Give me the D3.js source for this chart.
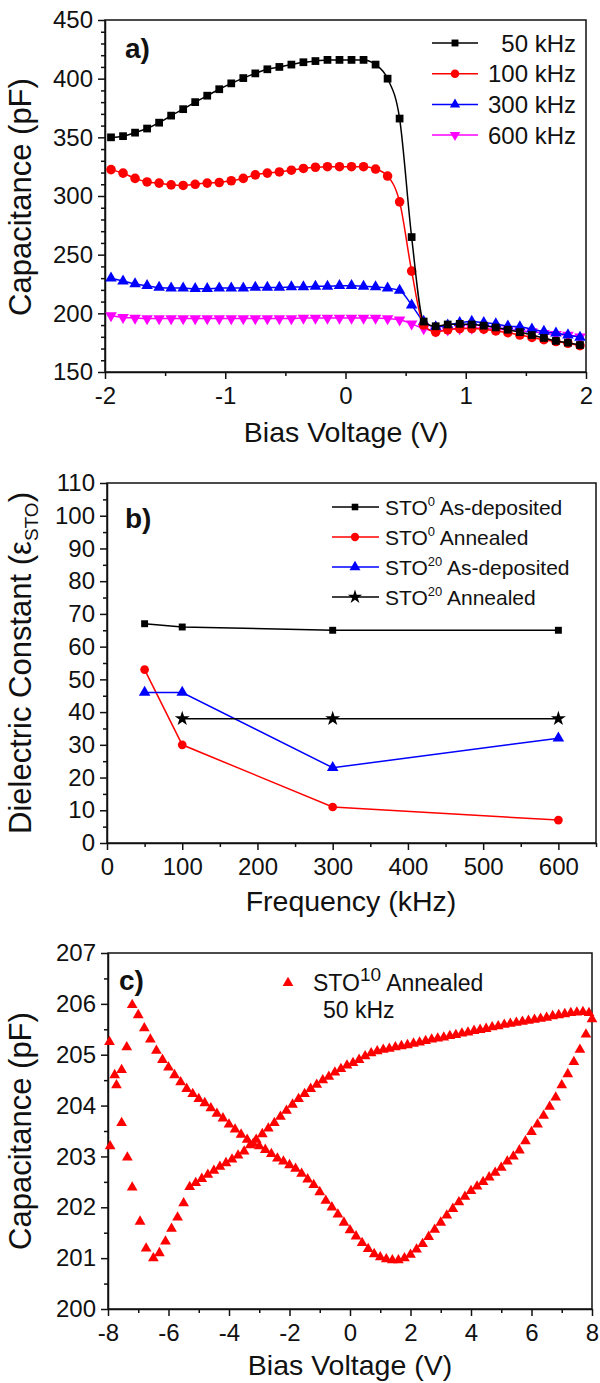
<!DOCTYPE html>
<html>
<head>
<meta charset="utf-8">
<script src="https://cdn.jsdelivr.net/npm/d3@7"></script>
<style>
  body { margin: 0; background: #fff; }
  svg { font-family: Arial, "Liberation Sans", sans-serif; }
</style>
</head>
<body>
<div id="chart"></div>
<script>
// ---------- panel a) C-V at several frequencies
const biasA = [-1.95, -1.85, -1.75, -1.65, -1.55, -1.45, -1.35, -1.25, -1.15, -1.05,
  -0.95, -0.85, -0.75, -0.65, -0.55, -0.45, -0.35, -0.25, -0.15, -0.05,
  0.05, 0.15, 0.25, 0.35, 0.45, 0.55, 0.65, 0.75, 0.85, 0.95,
  1.05, 1.15, 1.25, 1.35, 1.45, 1.55, 1.65, 1.75, 1.85, 1.95];
const cap50 = [350, 351, 354, 357.5, 362.5, 368.5, 374, 380, 385.5, 391,
  396, 400.5, 404.5, 408, 410, 412, 414, 415, 416, 416,
  416, 416, 412, 400, 366, 265, 193, 189, 190.5, 191,
  190.5, 189.5, 188, 186, 184, 181.5, 179, 176.5, 175, 173];
const cap100 = [322.5, 319.5, 315, 312, 311, 309.5, 309, 310, 311, 311.5,
  313, 315, 318, 319.5, 320.5, 322, 323.5, 324.5, 325, 325,
  325, 325, 323, 317, 295, 236, 190, 184, 186, 187,
  187, 186.5, 185, 183.5, 181.5, 179.5, 177.5, 176, 174.5, 172.5];
const cap300 = [230, 227.5, 225, 223.5, 222, 221.5, 221.5, 221, 221, 221.5,
  221.5, 221.5, 222, 222, 222, 222.5, 222.5, 223, 223, 223.5,
  223.5, 223, 222.5, 221.5, 219.5, 207, 193, 188.5, 190, 192,
  193, 192, 191, 189, 188.5, 186.5, 184.5, 183, 181.5, 179.5];
const cap600 = [198, 196.5, 196, 195.5, 195.5, 195.5, 195.5, 195.5, 195.5, 195.5,
  195.5, 195.5, 195.5, 195.5, 195.5, 195.5, 196, 196, 196, 196,
  196, 196, 196, 195.5, 194.5, 191, 187, 185, 186, 187,
  187.5, 187.5, 186.5, 186, 185, 184.5, 183, 182, 181.5, 180];
const freqLabelsA = [" 50 kHz", "100 kHz", "300 kHz", "600 kHz"];

// ---------- panel b) dielectric constant vs frequency
const freqB = [50, 100, 300, 600];
const sto0Dep = [67, 66, 65, 65];
const sto0Ann = [53, 30, 11, 7];
const sto20Dep = [46, 46, 23, 32];
const freqStar = [100, 300, 600];
const sto20Ann = [38, 38, 38];

// ---------- panel c) STO10 annealed hysteresis at 50 kHz
const sweepDownV = [8.0, 7.8, 7.6, 7.4, 7.2, 7.0, 6.8, 6.6, 6.4, 6.2,
  6.0, 5.8, 5.6, 5.4, 5.2, 5.0, 4.8, 4.6, 4.4, 4.2,
  4.0, 3.8, 3.6, 3.4, 3.2, 3.0, 2.8, 2.6, 2.4, 2.2,
  2.0, 1.8, 1.6, 1.4, 1.2, 1.0, 0.8, 0.6, 0.4, 0.2,
  0.0, -0.2, -0.4, -0.6, -0.8, -1.0, -1.2, -1.4, -1.6, -1.8,
  -2.0, -2.2, -2.4, -2.6, -2.8, -3.0, -3.2, -3.4, -3.6, -3.8,
  -4.0, -4.2, -4.4, -4.6, -4.8, -5.0, -5.2, -5.4, -5.6, -5.8,
  -6.0, -6.2, -6.4, -6.6, -6.8, -7.0, -7.2, -7.38, -7.55, -7.72, -7.78, -7.95];
const sweepDownC = [205.7, 205.4, 205.1, 204.86, 204.62, 204.4, 204.16, 203.98, 203.8, 203.63,
  203.48, 203.3, 203.12, 203.0, 202.9, 202.78, 202.68, 202.59, 202.5, 202.41,
  202.32, 202.21, 202.1, 201.97, 201.84, 201.7, 201.56, 201.42, 201.28, 201.17,
  201.07, 201.0, 200.96, 200.96, 200.98, 201.02, 201.08, 201.18, 201.3, 201.43,
  201.55, 201.7, 201.86, 202.0, 202.13, 202.3, 202.44, 202.55, 202.66, 202.76,
  202.83, 202.9, 202.96, 203.05, 203.13, 203.2, 203.25, 203.33, 203.43, 203.53,
  203.63, 203.75, 203.84, 203.95, 204.05, 204.13, 204.23, 204.33, 204.46, 204.6,
  204.75, 204.9, 205.08, 205.3, 205.52, 205.78, 205.98, 205.15, 204.7, 204.4, 204.6, 205.25];
const sweepUpV = [-7.93, -7.55, -7.36, -7.2, -6.94, -6.74, -6.5, -6.3, -6.1, -5.9,
  -5.7, -5.5, -5.3, -5.1, -4.9, -4.7, -4.5, -4.3, -4.1, -3.9,
  -3.7, -3.5, -3.3, -3.1, -2.9, -2.7, -2.5, -2.3, -2.1, -1.9,
  -1.7, -1.5, -1.3, -1.1, -0.9, -0.7, -0.5, -0.3, -0.1, 0.1,
  0.3, 0.5, 0.7, 0.9, 1.1, 1.3, 1.5, 1.7, 1.9, 2.1,
  2.3, 2.5, 2.7, 2.9, 3.1, 3.3, 3.5, 3.7, 3.9, 4.1,
  4.3, 4.5, 4.7, 4.9, 5.1, 5.3, 5.5, 5.7, 5.9, 6.1,
  6.3, 6.5, 6.7, 6.9, 7.1, 7.3, 7.5, 7.7, 7.9];
const sweepUpC = [203.2, 203.66, 202.98, 202.39, 201.72, 201.19, 201.0, 201.1, 201.33, 201.58,
  201.8, 202.08, 202.4, 202.48, 202.56, 202.64, 202.72, 202.8, 202.87, 202.94,
  203.02, 203.1, 203.22, 203.33, 203.44, 203.55, 203.66, 203.78, 203.9, 204.02,
  204.13, 204.23, 204.33, 204.41, 204.5, 204.57, 204.65, 204.72, 204.79, 204.84,
  204.9, 204.97, 205.03, 205.07, 205.1, 205.12, 205.15, 205.17, 205.19, 205.22,
  205.24, 205.27, 205.3, 205.32, 205.34, 205.37, 205.39, 205.42, 205.44, 205.47,
  205.49, 205.51, 205.54, 205.56, 205.59, 205.61, 205.63, 205.65, 205.67, 205.69,
  205.71, 205.73, 205.76, 205.78, 205.8, 205.82, 205.83, 205.84, 205.82];

const ink = "#111";
const svg = d3.select("#chart").append("svg")
  .attr("width", 600)
  .attr("height", 1383);

// axes + box for one panel
function drawFrame(x, y, xMajor, xMinor, yMajor, yMinor) {
  const [x0, x1] = x.range();
  const [y0, y1] = y.range();
  const fmt = d => String(d);

  const gx = svg.append("g").attr("transform", `translate(0,${y0})`);
  gx.call(d3.axisBottom(x).tickValues(xMinor).tickSize(4).tickSizeOuter(0).tickFormat(""));
  gx.call(g => g.select(".domain").remove());
  const gx2 = svg.append("g").attr("transform", `translate(0,${y0})`)
    .call(d3.axisBottom(x).tickValues(xMajor).tickSize(7).tickPadding(8).tickSizeOuter(0).tickFormat(fmt));

  const gy = svg.append("g").attr("transform", `translate(${x0},0)`);
  gy.call(d3.axisLeft(y).tickValues(yMinor).tickSize(4).tickSizeOuter(0).tickFormat(""));
  gy.call(g => g.select(".domain").remove());
  const gy2 = svg.append("g").attr("transform", `translate(${x0},0)`)
    .call(d3.axisLeft(y).tickValues(yMajor).tickSize(7).tickPadding(5).tickSizeOuter(0).tickFormat(fmt));

  [gx, gx2, gy, gy2].forEach(g => g
    .attr("color", ink)
    .attr("font-size", 24)
    .attr("font-family", "Arial, 'Liberation Sans', sans-serif")
    .selectAll("line, path").attr("stroke-width", 1.5));

  svg.append("rect")
    .attr("x", x0).attr("y", y1)
    .attr("width", x1 - x0).attr("height", y0 - y1)
    .attr("fill", "none").attr("stroke", ink).attr("stroke-width", 1.5);
}

function yTitle(text, cy, sub) {
  const t = svg.append("text")
    .attr("transform", `translate(31,${cy})rotate(-90)`)
    .attr("text-anchor", "middle")
    .attr("font-size", 31)
    .attr("fill", ink)
    .text(text);
  if (sub) {
    t.append("tspan").attr("font-size", 19).attr("dy", 7).text(sub);
    t.append("tspan").attr("dy", -7).text(")");
  }
}

function xTitle(text, cx, y) {
  svg.append("text")
    .attr("x", cx).attr("y", y)
    .attr("text-anchor", "middle")
    .attr("font-size", 28.5)
    .attr("fill", ink)
    .text(text);
}

function panelTag(text, x, y) {
  svg.append("text")
    .attr("x", x).attr("y", y)
    .attr("font-size", 28)
    .attr("font-weight", "bold")
    .attr("fill", ink)
    .text(text);
}

function symbolPath(type, size) {
  return d3.symbol().type(type).size(size)();
}

// ================= panel a =================
const xA = d3.scaleLinear().domain([-2, 2]).range([105, 586]);
const yA = d3.scaleLinear().domain([150, 450]).range([372, 20]);

drawFrame(xA, yA, [-2, -1, 0, 1, 2], [-1.5, -0.5, 0.5, 1.5],
  d3.range(150, 451, 50), d3.range(160, 450, 10).filter(v => v % 50 !== 0));

const seriesA = [
  { vals: cap50, color: "#000000", type: d3.symbolSquare, size: 60, rot: 0 },
  { vals: cap100, color: "#ff0000", type: d3.symbolCircle, size: 72, rot: 0 },
  { vals: cap300, color: "#0000ff", type: d3.symbolTriangle, size: 58, rot: 0 },
  { vals: cap600, color: "#ff00ff", type: d3.symbolTriangle, size: 58, rot: 180 }
];

const lineA = d3.line().curve(d3.curveMonotoneX)
  .x(d => xA(d[0])).y(d => yA(d[1]));

seriesA.slice().reverse().forEach(s => {
  const pts = biasA.map((v, i) => [v, s.vals[i]]);
  svg.append("path")
    .attr("d", lineA(pts))
    .attr("fill", "none")
    .attr("stroke", s.color)
    .attr("stroke-width", 1.5);
  svg.append("g").selectAll("path")
    .data(pts)
    .join("path")
    .attr("d", symbolPath(s.type, s.size))
    .attr("transform", d => `translate(${xA(d[0])},${yA(d[1])})rotate(${s.rot})`)
    .attr("fill", s.color);
});

// legend a
seriesA.forEach((s, i) => {
  const cy = 43 + i * 30.7;
  svg.append("line").attr("x1", 432).attr("x2", 478).attr("y1", cy).attr("y2", cy)
    .attr("stroke", s.color).attr("stroke-width", 1.5);
  svg.append("path").attr("d", symbolPath(s.type, s.size * 0.8))
    .attr("transform", `translate(455,${cy})rotate(${s.rot})`)
    .attr("fill", s.color);
  svg.append("text").attr("x", 576).attr("y", cy + 8.5)
    .attr("text-anchor", "end")
    .attr("font-size", 24).attr("fill", ink)
    .attr("xml:space", "preserve")
    .text(freqLabelsA[i]);
});

panelTag("a)", 125, 58);
yTitle("Capacitance (pF)", 197);
xTitle("Bias Voltage (V)", 346, 442);

// ================= panel b =================
const xB = d3.scaleLinear().domain([0, 650]).range([107, 596]);
const yB = d3.scaleLinear().domain([0, 110]).range([843, 483]);

drawFrame(xB, yB, d3.range(0, 601, 100), [50, 150, 250, 350, 450, 550, 650],
  d3.range(0, 111, 10), d3.range(5, 110, 10));

const seriesB = [
  { xs: freqB, vals: sto0Dep, color: "#000000", type: d3.symbolSquare, size: 48, sup: "0", name: " As-deposited" },
  { xs: freqB, vals: sto0Ann, color: "#ff0000", type: d3.symbolCircle, size: 60, sup: "0", name: " Annealed" },
  { xs: freqB, vals: sto20Dep, color: "#0000ff", type: d3.symbolTriangle, size: 58, sup: "20", name: " As-deposited" },
  { xs: freqStar, vals: sto20Ann, color: "#000000", type: d3.symbolStar, size: 70, sup: "20", name: " Annealed" }
];

const lineB = d3.line().x(d => xB(d[0])).y(d => yB(d[1]));

seriesB.forEach(s => {
  const pts = s.xs.map((v, i) => [v, s.vals[i]]);
  svg.append("path")
    .attr("d", lineB(pts))
    .attr("fill", "none")
    .attr("stroke", s.color)
    .attr("stroke-width", 1.5);
  svg.append("g").selectAll("path")
    .data(pts)
    .join("path")
    .attr("d", symbolPath(s.type, s.size))
    .attr("transform", d => `translate(${xB(d[0])},${yB(d[1])})`)
    .attr("fill", s.color);
});

// legend b
seriesB.forEach((s, i) => {
  const cy = 507 + i * 30;
  svg.append("line").attr("x1", 332).attr("x2", 379).attr("y1", cy).attr("y2", cy)
    .attr("stroke", s.color).attr("stroke-width", 1.5);
  svg.append("path").attr("d", symbolPath(s.type, s.size * 0.9))
    .attr("transform", `translate(355,${cy})`)
    .attr("fill", s.color);
  const t = svg.append("text").attr("x", 385).attr("y", cy + 8)
    .attr("font-size", 21).attr("fill", ink)
    .attr("xml:space", "preserve");
  t.append("tspan").text("STO");
  t.append("tspan").attr("font-size", 13).attr("dy", -9).text(s.sup);
  t.append("tspan").attr("dy", 9).text(s.name);
});

panelTag("b)", 125, 528);
yTitle("Dielectric Constant (\u03b5", 663, "STO");
xTitle("Frequency (kHz)", 351, 911);

// ================= panel c =================
const xC = d3.scaleLinear().domain([-8, 8]).range([108, 592]);
const yC = d3.scaleLinear().domain([200, 207]).range([1309, 953]);

drawFrame(xC, yC, d3.range(-8, 9, 2), d3.range(-7, 8, 2),
  d3.range(200, 208, 1), [200.5, 201.5, 202.5, 203.5, 204.5, 205.5, 206.5]);

const ptsC = sweepDownV.map((v, i) => [v, sweepDownC[i]])
  .concat(sweepUpV.map((v, i) => [v, sweepUpC[i]]));

svg.append("g").selectAll("path")
  .data(ptsC)
  .join("path")
  .attr("d", symbolPath(d3.symbolTriangle, 50))
  .attr("transform", d => `translate(${xC(d[0])},${yC(d[1])})`)
  .attr("fill", "#ff0000");

// legend c
svg.append("path").attr("d", symbolPath(d3.symbolTriangle, 50))
  .attr("transform", "translate(288,983)")
  .attr("fill", "#ff0000");
const tc = svg.append("text").attr("x", 313).attr("y", 991)
  .attr("font-size", 23).attr("fill", ink).attr("xml:space", "preserve");
tc.append("tspan").text("STO");
tc.append("tspan").attr("font-size", 19).attr("dy", -10).text("10");
tc.append("tspan").attr("dy", 10).text(" Annealed");
svg.append("text").attr("x", 323).attr("y", 1018)
  .attr("font-size", 23).attr("fill", ink)
  .text("50 kHz");

panelTag("c)", 119, 990);
yTitle("Capacitance (pF)", 1131);
xTitle("Bias Voltage (V)", 350, 1375);
</script>
</body>
</html>
